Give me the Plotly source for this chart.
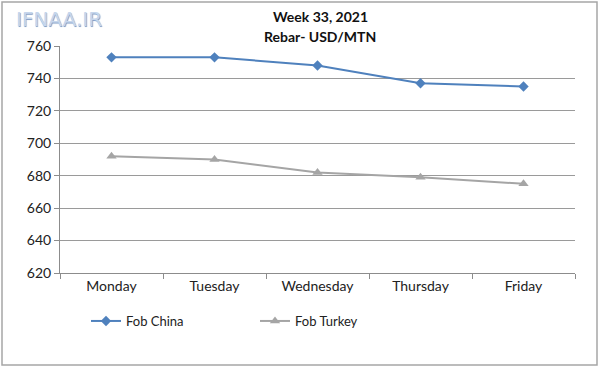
import plotly.graph_objects as go

days = ["Monday", "Tuesday", "Wednesday", "Thursday", "Friday"]
fob_china = [753, 753, 748, 737, 735]
fob_turkey = [692, 690, 682, 679, 675]
y_ticks = [620, 640, 660, 680, 700, 720, 740, 760]

font = "Lato, Open Sans, Liberation Sans, sans-serif"

W, H = 600, 368
L, R, T, B = 60, 25, 46, 95
pw, ph = W - L - R, H - T - B

def px(x):
    return (x - L) / pw

def py(y):
    return (H - B - y) / ph

fig = go.Figure()
fig.add_trace(go.Scatter(x=days, y=fob_china, name="Fob China", mode="lines+markers",
                         line=dict(color="#4F81BD", width=2),
                         marker=dict(symbol="diamond", size=8, color="#4F81BD")))
fig.add_trace(go.Scatter(x=days, y=fob_turkey, name="Fob Turkey", mode="lines+markers",
                         line=dict(color="#A5A5A5", width=2),
                         marker=dict(symbol="triangle-up", size=9, color="#A5A5A5")))

fig.update_layout(
    width=W, height=H,
    margin=dict(l=L, r=R, t=T, b=B),
    paper_bgcolor="white", plot_bgcolor="white",
    font=dict(family=font, size=13, color="#222"),
    showlegend=True,
    legend=dict(orientation="h", x=px(86), xanchor="left", y=py(306), yanchor="top",
                font=dict(size=13, color="#222"), entrywidth=124,
                bgcolor="rgba(0,0,0,0)"),
    xaxis=dict(type="category", range=[-0.5, 4.5], showgrid=False,
               showline=True, linecolor="#8c8c8c", linewidth=1,
               ticks="outside", tickson="boundaries", ticklen=5, tickcolor="#8c8c8c",
               tickfont=dict(size=14, color="#222")),
    yaxis=dict(range=[620, 760], tickvals=y_ticks, showgrid=True, gridcolor="#9a9a9a",
               gridwidth=1, showline=True, linecolor="#8c8c8c", linewidth=1,
               ticks="outside", ticklen=5, tickcolor="#8c8c8c", zeroline=False,
               tickfont=dict(size=14, color="#222")),
    annotations=[
        dict(text="<b>Week 33, 2021</b>", xref="paper", yref="paper", x=px(320), y=py(17),
             showarrow=False, yanchor="middle", font=dict(size=14, color="#111")),
        dict(text="<b>Rebar- USD/MTN</b>", xref="paper", yref="paper", x=px(320), y=py(37),
             showarrow=False, yanchor="middle", font=dict(size=14, color="#111")),
        dict(text="IFNAA.IR", xref="paper", yref="paper", x=px(14), y=py(19),
             xanchor="left", yanchor="middle", showarrow=False,
             font=dict(size=20, color="#c6d6ec", family="DejaVu Sans, sans-serif",
                       shadow="0.7px 0.7px 0.7px #7f9cc4")),
    ],
    shapes=[dict(type="rect", xref="paper", yref="paper", x0=px(2), x1=px(597),
                 y0=py(365), y1=py(2), line=dict(color="#a6a6a6", width=1.5),
                 layer="below")],
)

fig.write_html("out.html", config={"displayModeBar": False},
               post_script="document.body.style.margin='0';document.body.style.overflow='hidden';")
